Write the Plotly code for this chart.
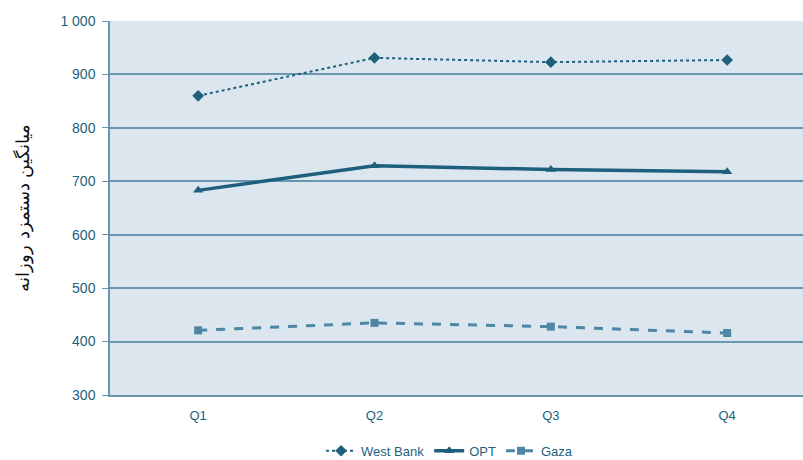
import plotly.graph_objects as go

quarters = ["Q1", "Q2", "Q3", "Q4"]
west_bank = [860, 931, 923, 927]
opt = [683, 729, 722, 718]
gaza = [421, 435, 428, 416]
y_ticks = [300, 400, 500, 600, 700, 800, 900, 1000]
y_tick_labels = ["300", "400", "500", "600", "700", "800", "900", "1 000"]

dark = "#1d5f7d"
light = "#4d87a5"
grid = "#6a97ae"

fig = go.Figure()
fig.add_trace(go.Scatter(x=quarters, y=west_bank, name="West Bank", mode="lines+markers",
                         line=dict(color=dark, width=2, dash="dot"),
                         marker=dict(symbol="diamond", size=9, color=dark)))
fig.add_trace(go.Scatter(x=quarters, y=opt, name="OPT", mode="lines+markers",
                         line=dict(color=dark, width=3.5),
                         marker=dict(symbol="triangle-up", size=9, color=dark)))
fig.add_trace(go.Scatter(x=quarters, y=gaza, name="Gaza", mode="lines+markers",
                         line=dict(color=light, width=3, dash="dash"),
                         marker=dict(symbol="square", size=8, color=light)))

fig.update_layout(
    width=803, height=460,
    margin=dict(l=110, r=0, t=21, b=65, autoexpand=False),
    paper_bgcolor="white",
    plot_bgcolor="#dce6ee",
    font=dict(family="Liberation Sans, Arial, sans-serif", color=dark, size=13),
    legend=dict(orientation="h", x=0.49, xanchor="center", yref="container", y=0.02,
                yanchor="middle", font=dict(size=13, color=dark), traceorder="normal"),
    showlegend=True,
)
fig.update_xaxes(range=[-0.5, 3.43], showgrid=False, showline=True, linecolor=grid,
                 linewidth=1.5, ticks="", ticklabelstandoff=8,
                 tickfont=dict(size=13, color=dark), zeroline=False)
fig.update_yaxes(range=[300, 1000], tickvals=y_ticks, ticktext=y_tick_labels,
                 showgrid=True, gridcolor=grid, gridwidth=1.5, showline=True,
                 linecolor=grid, linewidth=1.5, ticks="outside", ticklen=6, tickcolor=grid,
                 ticklabelstandoff=4,
                 tickfont=dict(size=14, color=dark), zeroline=False,
                 title=dict(text="میانگین دستمزد روزانه", standoff=26,
                            font=dict(family="DejaVu Serif, serif", size=18, color="#111111")))

fig.write_html("out.html", config={"displayModeBar": False},
               post_script="document.body.style.margin='0';document.body.style.overflow='hidden';")
